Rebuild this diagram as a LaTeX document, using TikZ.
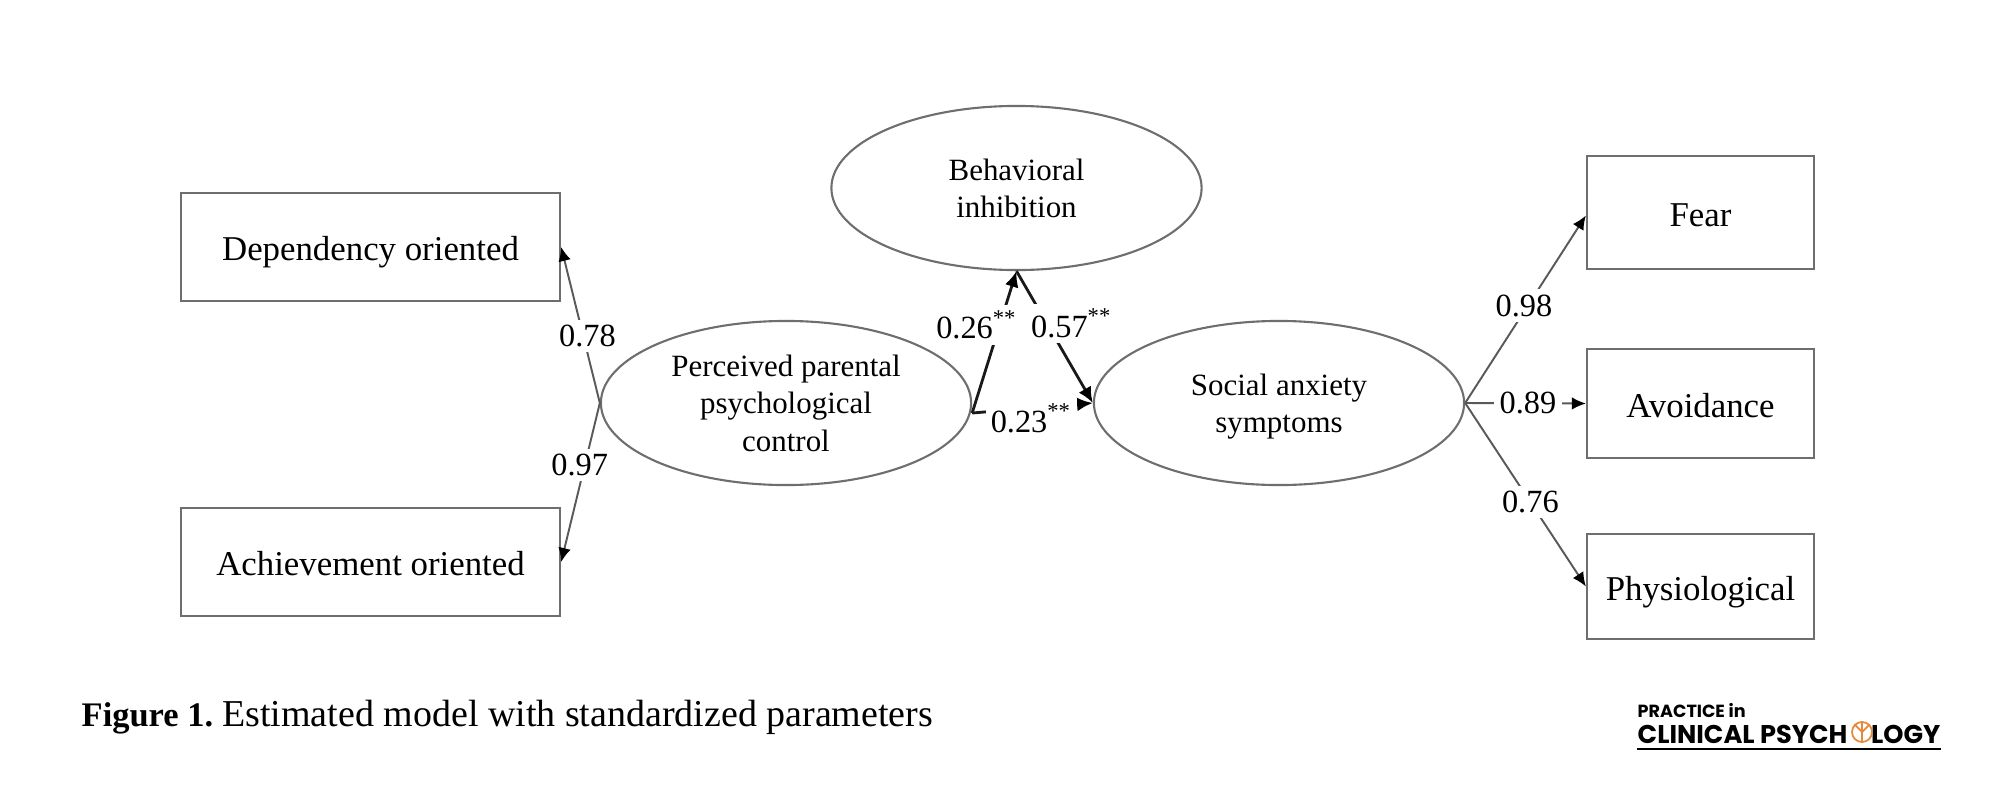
\documentclass[tikz,border=0pt]{standalone}
\usepackage{fontspec}
\setmainfont{Liberation Serif}
\newfontfamily\logofont{Poppins}
\usetikzlibrary{arrows.meta,positioning,shapes.geometric}
\definecolor{edgegray}{HTML}{6E6E6E}
\definecolor{logoorange}{HTML}{E58A3C}
\tikzset{
  obs/.style={draw=edgegray, line width=0.6pt, minimum width=3.79cm, text height=1.7ex, text depth=0pt, font=\fontsize{9.9}{12}\selectfont},
  latent/.style={draw=edgegray, ellipse, line width=0.6pt, minimum width=3.7cm, minimum height=1.64cm, inner sep=0pt, align=center, text depth=-1pt, font=\fontsize{8.8}{10.6}\selectfont},
  loading/.style={draw=black!65, line width=0.55pt, -{Latex[black,length=4pt,width=3.6pt]}},
  route/.style={draw=black!90, line width=0.8pt, -{Latex[black,length=4.5pt,width=4pt]}},
  coef/.style={fill=white, inner sep=1.5pt, font=\fontsize{9.2}{11}\selectfont}
}
\begin{document}
\begin{tikzpicture}[x=0.01cm,y=-0.01cm]
\useasboundingbox (0,0) rectangle (2000,800);
\node[obs, minimum height=1.08cm] (dependency) at (370.5,247) {Dependency oriented};
\node[obs, minimum height=1.08cm] (achievement) at (370.5,562) {Achievement oriented};
\node[obs, minimum width=2.27cm, minimum height=1.13cm] (fear) at (1700.5,212.5) {Fear};
\node[obs, minimum width=2.27cm, minimum height=1.09cm] (avoidance) at (1700.5,403.5) {Avoidance};
\node[obs, minimum width=2.27cm, minimum height=1.05cm] (physiological) at (1700.5,586.5) {Physiological};
\node[latent] (inhibition) at (1016.5,188) {Behavioral\\inhibition};
\node[latent] (parental) at (786,403) {Perceived parental\\psychological\\control};
\node[latent] (anxiety) at (1279,403) {Social anxiety\\symptoms};
\coordinate (parentalout) at ([yshift=-0.1cm]parental.east);
\coordinate (fearin) at ([yshift=-0.03cm]fear.west);
\draw[loading] (parental.west) -- node[coef, pos=0.45, xshift=0.05cm, yshift=-0.03cm] {0.78} (dependency.east);
\draw[loading] (parental.west) -- node[coef, pos=0.39, xshift=-0.05cm] {0.97} (achievement.east);
\draw[route] (parentalout) -- node[coef, pos=0.6, xshift=-0.22cm, yshift=0.03cm] {0.26\textsuperscript{**}} (inhibition.south);
\draw[route] (inhibition.south) -- node[coef, pos=0.42, xshift=0.23cm, yshift=0.03cm] {0.57\textsuperscript{**}} (anxiety.west);
\draw[route] (parentalout) -- node[coef, pos=0.49, yshift=-0.1cm] {0.23\textsuperscript{**}} (anxiety.west);
\draw[loading] (anxiety.east) -- node[coef, pos=0.52, xshift=-0.04cm] {0.98} (fearin);
\draw[loading] (anxiety.east) -- node[coef, pos=0.52] {0.89} (avoidance.west);
\draw[loading] (anxiety.east) -- node[coef, pos=0.54] {0.76} (physiological.west);
% caption
\node[anchor=base west, inner sep=0pt, font=\fontsize{10.8}{12}\selectfont] (caption) at (81,726) {{\fontsize{9.8}{12}\selectfont\textbf{Figure 1.}}\hspace{-1pt} Estimated model with standardized parameters};
% logo
\node[anchor=base west, inner sep=0pt, font=\logofont\bfseries\fontsize{5}{5}\selectfont] (logotop) at (1637,717) {PRACTICE in};
\node[anchor=base west, inner sep=0pt, font=\logofont\bfseries\fontsize{7.3}{7}\selectfont] (logoleft) at (1637,743) {CLINICAL PSYCH};
\node[anchor=base east, inner sep=0pt, font=\logofont\bfseries\fontsize{7.3}{7}\selectfont] (logoright) at (1941,743) {LOGY};
\node[draw=logoorange, circle, line width=0.5pt, minimum size=0.2cm, inner sep=0pt] (logomark) at (1862,732) {};
\draw[logoorange, line width=0.5pt] (logomark.south) -- (logomark.center) -- (logomark.north west);
\draw[logoorange, line width=0.5pt] (logomark.center) -- (logomark.north);
\draw[logoorange, line width=0.5pt] (logomark.center) -- (logomark.north east);
\draw[black, line width=0.8pt] (logoleft.base west) ++(0,6) -- ++(304,0);
\end{tikzpicture}
\end{document}
